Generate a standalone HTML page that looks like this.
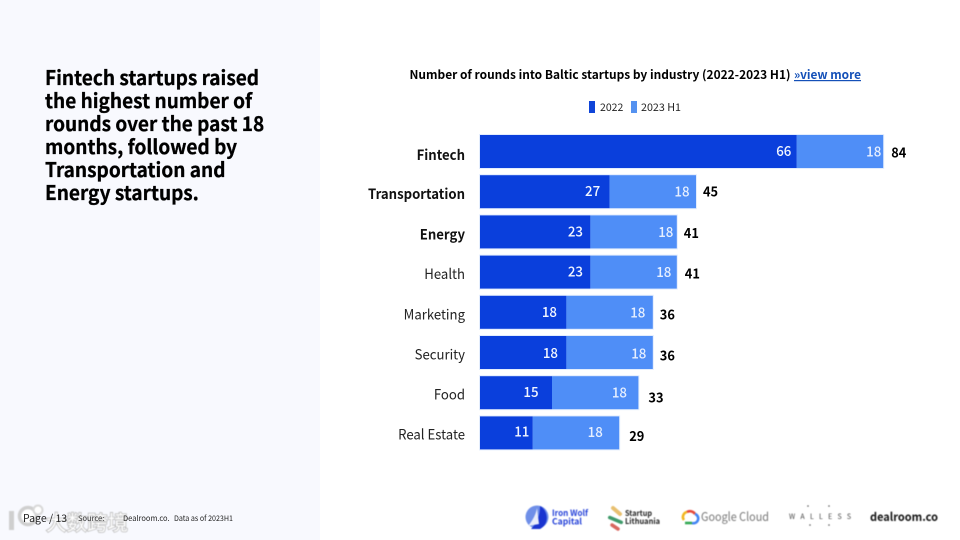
<!DOCTYPE html>
<html lang="en">
<head>
<meta charset="utf-8">
<title>Baltic startup rounds by industry</title>
<style>
html,body{margin:0;padding:0;background:#fff}
#slide{position:relative;width:960px;height:540px;overflow:hidden;background:#fff;font-family:"Noto Sans CJK JP","Liberation Sans",sans-serif;color:#000}
#panel{position:absolute;left:0;top:0;width:320px;height:540px;background:#f8f9fe}
#headline{position:absolute;left:44.5px;top:64.5px;margin:0;font-size:20px;line-height:23px;font-weight:700;white-space:nowrap;color:#000;transform:scaleX(.952);transform-origin:0 0;-webkit-text-stroke:.3px #000}
svg{position:absolute;left:0;top:0}
text{font-family:"Noto Sans CJK JP","Liberation Sans",sans-serif}
.soft{filter:blur(.4px)}
</style>
</head>
<body>
<div id="slide">
  <div id="panel"></div>
  <h1 id="headline">Fintech startups raised<br>the highest number of<br>rounds over the past 18<br>months, followed by<br>Transportation and<br>Energy startups.</h1>

  <svg id="chart" width="960" height="540" viewBox="0 0 960 540">
    <text x="409.5" y="79" font-size="12" font-weight="700" id="title" textLength="381" lengthAdjust="spacingAndGlyphs">Number of rounds into Baltic startups by industry (2022-2023 H1)</text>
    <text x="794" y="79" font-size="12" font-weight="700" fill="#1450b8" text-decoration="underline" textLength="67" lengthAdjust="spacingAndGlyphs">»view more</text>

    <rect x="589" y="101" width="6" height="12" fill="#0f44d8"></rect>
    <text x="600" y="111" font-size="10.5" fill="#222">2022</text>
    <rect x="631" y="101" width="6" height="12" fill="#5592f0"></rect>
    <text x="641" y="111" font-size="10.5" fill="#222" textLength="40" lengthAdjust="spacingAndGlyphs">2023 H1</text>

    <g id="rows"></g>
  </svg>

  <svg width="960" height="540" viewBox="0 0 960 540">
    <g class="soft">
      <circle cx="28" cy="516" r="8.5" fill="#fff" stroke="#cfcfcf" stroke-width="3.5"></circle>
      <circle cx="38" cy="510" r="4.5" fill="#fff" stroke="#d8d8d8" stroke-width="2"></circle>
      <rect x="9" y="511" width="5" height="19" fill="#cfcfcf"></rect>
      <text x="46" y="530" font-size="20.5" fill="#fff" stroke="#bdbdbd" stroke-width="1.6" paint-order="stroke" style="font-family:'Noto Sans CJK SC','Liberation Sans',sans-serif">大数跨境</text>
    </g>

    <text x="23" y="522" font-size="10.5" fill="#222">Page / 13</text>
    <text x="78" y="521" font-size="7.5" fill="#333">Source:</text>
    <text x="123" y="521" font-size="7.5" fill="#222">Dealroom.co.</text>
    <text x="174" y="521" font-size="7.5" fill="#222" textLength="59" lengthAdjust="spacingAndGlyphs">Data as of 2023H1</text>

    <g class="soft">
      <circle cx="537" cy="517" r="11.5" fill="#6f8fe8"></circle>
      <path d="M540 506 C548 510 550 524 540 529 L531 529 C538 522 540 514 540 506 Z" fill="#1a34d0"></path>
      <path d="M528 526 C533 520 536 514 537 508 L539 524 Z" fill="#e8ecfb"></path>
      <text x="552" y="516" font-size="8.5" font-weight="700" fill="#2340d8" textLength="36" lengthAdjust="spacingAndGlyphs">Iron Wolf</text>
      <text x="552" y="524.5" font-size="8.5" font-weight="700" fill="#2340d8" textLength="30" lengthAdjust="spacingAndGlyphs">Capital</text>
    </g>
    <g class="soft">
      <path d="M613 508 L620 514" stroke="#e8c070" stroke-width="4" stroke-linecap="round"></path>
      <path d="M610 517 L621 523" stroke="#3f9a6a" stroke-width="3.5" stroke-linecap="round" transform="rotate(-6 615 520)"></path>
      <path d="M612 525 L618 529" stroke="#d9675f" stroke-width="3.5" stroke-linecap="round"></path>
      <text x="625" y="516" font-size="8" font-weight="700" fill="#222" textLength="27" lengthAdjust="spacingAndGlyphs">Startup</text>
      <text x="625" y="524" font-size="8" font-weight="700" fill="#222" textLength="35" lengthAdjust="spacingAndGlyphs">Lithuania</text>
    </g>
    <g class="soft">
      <path d="M684 520 A5 5 0 0 1 687 512" fill="none" stroke="#f2b61f" stroke-width="2.6"></path>
      <path d="M687 512 A6 6 0 0 1 695 514" fill="none" stroke="#e5493a" stroke-width="2.6"></path>
      <path d="M695 514 A4.5 4.5 0 0 1 692 523" fill="none" stroke="#4285f4" stroke-width="2.6"></path>
      <path d="M692 523 L685 523" fill="none" stroke="#34a853" stroke-width="2.6"></path>
      <text x="701" y="521" font-size="12" fill="#777" textLength="68" lengthAdjust="spacingAndGlyphs">Google Cloud</text>
    </g>
    <g class="soft">
      <text x="789" y="519" font-size="7" fill="#444" textLength="62">WALLESS</text>
      <circle cx="808" cy="506" r="0.8" fill="#555"></circle>
      <circle cx="829" cy="506" r="0.8" fill="#555"></circle>
      <circle cx="810" cy="525" r="0.8" fill="#555"></circle>
      <circle cx="829" cy="525" r="0.8" fill="#555"></circle>
    </g>
    <text class="soft" x="870" y="521" font-size="11.5" font-weight="700" fill="#111" textLength="68" lengthAdjust="spacingAndGlyphs">dealroom.co</text>
  </svg>
</div>

<script>
var categories = ["Fintech", "Transportation", "Energy", "Health", "Marketing", "Security", "Food", "Real Estate"];
var series2022 = [66, 27, 23, 23, 18, 18, 15, 11];
var series2023H1 = [18, 18, 18, 18, 18, 18, 18, 18];
var totals = [84, 45, 41, 41, 36, 36, 33, 29];
var boldCategories = ["Fintech", "Transportation", "Energy"];

/* hand placement of the printed labels, relative to where the axis puts them */
var nudge2022 = [-13, -17, -15, -15, -17, -16, -21, -11];
var nudge2023 = [-9.5, -14, -11, -13, -15, -14, -19, -24];
var nudgeTotal = [8, 7, 7, 8, 7, 7, 10, 10];
var nudgeY = [0, 0, 0, 0, 0, 1, 0, -1];
var nudgeTotalY = [1, 0, 1, 1.5, 2, 3, 5, 3];
var nudgeCatY = [3.5, 2.5, 2.5, 2, 2, 2, 2, 1.5];

var NS = "http://www.w3.org/2000/svg";
var rows = document.getElementById("rows");

function xScale(v) { return 480 + v * 4.8; }
function yBand(i) { return 135 + i * 40.2; }
var BAND = 33;

function addRect(x, y, w, h, fill, name) {
  var r = document.createElementNS(NS, "rect");
  r.setAttribute("x", x);
  r.setAttribute("y", y);
  r.setAttribute("width", w);
  r.setAttribute("height", h);
  r.setAttribute("fill", fill);
  
  
  rows.appendChild(r);
}

function addText(x, y, str, size, weight, fill, anchor, sx, name) {
  var t = document.createElementNS(NS, "text");
  t.setAttribute("transform", "translate(" + x + " " + y + ") scale(" + sx + " 1)");
  t.setAttribute("font-size", size);
  t.setAttribute("font-weight", weight);
  t.setAttribute("fill", fill);
  t.setAttribute("text-anchor", anchor);
  t.textContent = str;
  
  
  rows.appendChild(t);
}

categories.forEach(function (cat, i) {
  var y = yBand(i);
  var a = series2022[i];
  var b = series2023H1[i];
  var xa = xScale(a);
  var xb = xScale(a + b);
  var mid = y + BAND / 2;
  var slug = cat.toLowerCase().replace(/\s+/g, "-");

  addRect(479, y - 1, xb - 478, BAND + 2, "#e3edfd", "bar-halo-" + slug);
  addRect(xScale(0), y, xa - xScale(0), BAND, "#0a3fdc", "bar-2022-" + slug);
  addRect(xa, y, xb - xa, BAND, "#4f8ef7", "bar-2023-h1-" + slug);

  var isBold = boldCategories.indexOf(cat) >= 0;
  addText(465, mid + 5 + nudgeCatY[i], cat, 14, isBold ? 700 : 400, isBold ? "#111" : "#222", "end", 0.94, "category-label-" + slug);

  addText(xa + nudge2022[i], mid + 4.5 + nudgeY[i], String(a), 14, 500, "#f2f6ff", "middle", 0.95, "value-2022-" + slug);
  addText(xb + nudge2023[i], mid + 5 + nudgeY[i], String(b), 14, 500, "#e6efff", "middle", 0.95, "value-2023-h1-" + slug);
  addText(xScale(totals[i]) + nudgeTotal[i], mid + 5 + nudgeTotalY[i], String(totals[i]), 13.5, 700, "#000", "start", 0.95, "total-" + slug);
});
</script>
</body>
</html>
